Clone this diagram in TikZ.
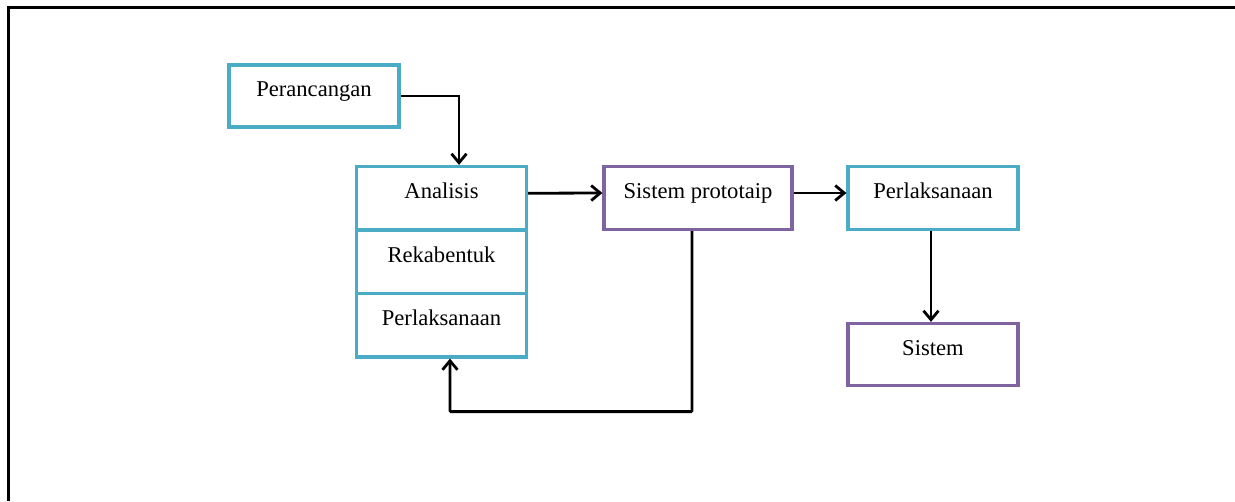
\documentclass[tikz,border=0pt]{standalone}
\usepackage{fontspec}
\setmainfont{Liberation Serif}
\usetikzlibrary{arrows.meta}
\definecolor{aqua}{HTML}{4BACC6}
\definecolor{violet}{HTML}{8064A2}
\tikzset{
  box/.style={draw=aqua, line width=3.2pt, minimum width=170pt, minimum height=62pt,
    inner sep=0pt, text height=15pt, text depth=14pt, fill=white,
    font=\fontsize{22.6}{27}\selectfont},
  pbox/.style={box, draw=violet},
  arr/.style={draw=black, line width=2.8pt, -{Straight Barb[length=9pt,width=15pt,line width=2.8pt]}},
  frame/.style={draw=black, line width=3pt}
}
\begin{document}
\begin{tikzpicture}[x=1pt,y=-1pt]
\useasboundingbox (0,0) rectangle (1235,501);
\draw[frame] (8,501) -- (8,7) -- (1235,7);
\node[box] (per) at (314,96) {Perancangan};
\node[box, minimum height=63.5pt] (ana) at (441.5,198.25) {Analisis};
\node[box, minimum height=63.5pt] (rek) at (441.5,261.75) {Rekabentuk};
\node[box, minimum height=63.5pt] (imp) at (441.5,325.25) {Perlaksanaan};
\node[pbox, minimum width=188pt, minimum height=63pt] (proto) at (698,198) {Sistem prototaip};
\node[box, minimum height=63pt] (perl) at (933,198) {Perlaksanaan};
\node[pbox] (sis) at (933,354.5) {Sistem};
\draw[arr] (per.east) -| ([xshift=17.5pt]ana.north);
\draw[arr] ([yshift=5pt]ana.east) -- ([yshift=5pt]proto.west);
\draw[arr] ([yshift=5pt]proto.east) -- ([yshift=5pt]perl.west);
\draw[arr] ([xshift=-2pt]perl.south) -- ([xshift=-2pt]sis.north);
\draw[arr, rounded corners=1pt] ([xshift=-6pt]proto.south) |- ([xshift=8.5pt,yshift=-53pt]imp.south) -- ([xshift=8.5pt]imp.south);
\end{tikzpicture}
\end{document}
